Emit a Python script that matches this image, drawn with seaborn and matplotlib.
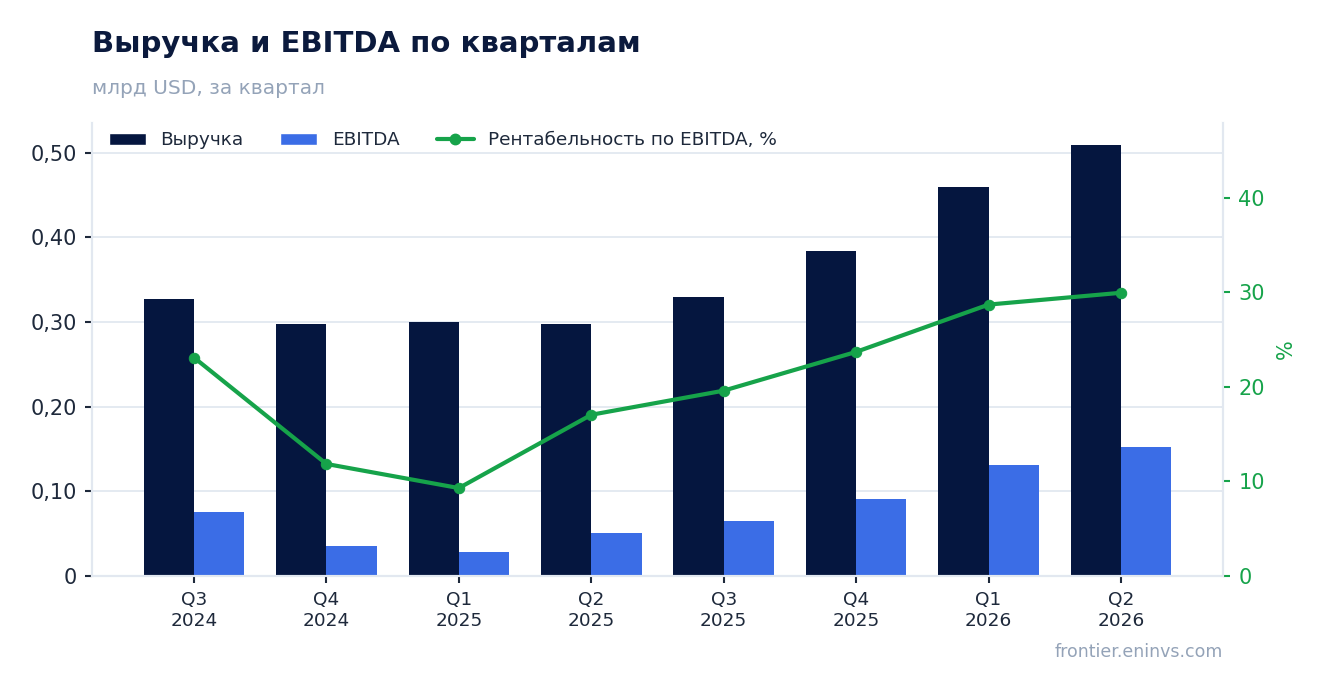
import matplotlib

matplotlib.use("Agg")

import matplotlib.pyplot as plt
import numpy as np
import pandas as pd
import seaborn as sns
from matplotlib.lines import Line2D
from matplotlib.patches import Patch
from matplotlib.ticker import FuncFormatter, MultipleLocator

quarters = ["Q3\n2024", "Q4\n2024", "Q1\n2025", "Q2\n2025", "Q3\n2025", "Q4\n2025", "Q1\n2026", "Q2\n2026"]
revenue = [0.327, 0.298, 0.300, 0.298, 0.329, 0.384, 0.459, 0.509]
ebitda = [0.0757, 0.0355, 0.0284, 0.0508, 0.065, 0.091, 0.131, 0.152]
margin = [23.1, 11.85, 9.3, 17.05, 19.6, 23.7, 28.7, 29.95]

NAVY = "#05163f"
BLUE = "#3b6de6"
GREEN = "#16a34a"
GRID = "#e2e8f0"
TEXT = "#1e293b"
MUTED = "#94a3b8"

sns.set_theme(style="white")
plt.rcParams["font.family"] = ["DejaVu Sans"]

bars = pd.DataFrame({
    "quarter": quarters * 2,
    "value": revenue + ebitda,
    "series": ["Выручка"] * len(quarters) + ["EBITDA"] * len(quarters),
})

fig = plt.figure(figsize=(13.22, 6.93), dpi=100)
ax = fig.add_axes([0.0696, 0.1688, 0.8555, 0.6537])

sns.barplot(data=bars, x="quarter", y="value", hue="series", order=quarters,
            palette={"Выручка": NAVY, "EBITDA": BLUE}, width=0.76, gap=0,
            saturation=1, ax=ax, legend=False)
for p in ax.patches:
    p.set_edgecolor("none")

ax.set_xlim(-0.77, 7.77)
ax.set_ylim(0, 0.535)
ax.yaxis.set_major_locator(MultipleLocator(0.1))
ax.yaxis.set_major_formatter(FuncFormatter(lambda v, _: "0" if abs(v) < 1e-9 else f"{v:.2f}".replace(".", ",")))
ax.grid(axis="y", color=GRID, linewidth=1.3)
ax.set_axisbelow(True)
ax.set_xlabel("")
ax.set_ylabel("")
ax.tick_params(axis="y", labelsize=15, colors=TEXT, length=5, width=1.5, left=True, pad=6)
ax.tick_params(axis="x", labelsize=13.3, colors=TEXT, length=5, width=1.5, bottom=True, pad=6)
for side in ["left", "bottom", "right"]:
    ax.spines[side].set_color(GRID)
    ax.spines[side].set_linewidth(1.5)
ax.spines["top"].set_visible(False)

ax2 = ax.twinx()
sns.lineplot(x=np.arange(len(quarters)), y=margin, color=GREEN, linewidth=3,
             marker="o", markersize=7.5, markeredgecolor=GREEN, ax=ax2, legend=False)
ax2.set_ylim(0, 47.9)
ax2.yaxis.set_major_locator(MultipleLocator(10))
ax2.tick_params(axis="y", labelsize=15, colors=GREEN, length=5, width=1.5, right=True, pad=6)
ax2.set_ylabel("%", color=GREEN, fontsize=15, labelpad=8)
for side in ["left", "bottom", "right"]:
    ax2.spines[side].set_color(GRID)
    ax2.spines[side].set_linewidth(1.5)
ax2.spines["top"].set_visible(False)
ax2.grid(False)

handles = [
    Patch(facecolor=NAVY, label="Выручка"),
    Patch(facecolor=BLUE, label="EBITDA"),
    Line2D([0], [0], color=GREEN, linewidth=3, marker="o", markersize=7.5, label="Рентабельность по EBITDA, %"),
]
ax2.legend(handles=handles, loc="upper left", bbox_to_anchor=(0, 1.018), ncol=3, frameon=False,
           fontsize=13.3, handlelength=2.0, columnspacing=2.0, labelcolor=TEXT)

fig.text(0.0696, 0.936, "Выручка и EBITDA по кварталам", fontsize=21, fontweight="bold",
         color="#0b1a3d", va="center", ha="left")
fig.text(0.0696, 0.873, "млрд USD, за квартал", fontsize=14.5, color=MUTED, va="center", ha="left")
fig.text(0.925, 0.059, "frontier.eninvs.com", fontsize=12.5, color=MUTED, va="center", ha="right")

fig.savefig("out.png", dpi=100)
